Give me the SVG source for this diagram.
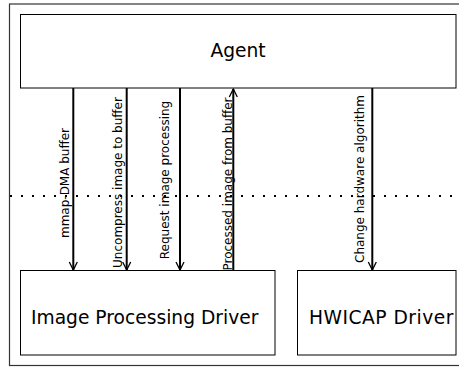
<svg xmlns="http://www.w3.org/2000/svg" width="459" height="367" viewBox="0 0 459 367">
<style>
.box{fill:#fff;stroke:#000;stroke-width:1}
.frame{fill:none;stroke:#333;stroke-width:1.2}
.big{font-family:"DejaVu Sans",sans-serif;font-size:18.67px;fill:#000}
.lbl{font-family:"DejaVu Sans",sans-serif;font-size:12px;fill:#000;text-anchor:middle}
.arr{stroke:#000;stroke-width:2;fill:none}
.dot{stroke:#000;stroke-width:2;stroke-dasharray:2 9;fill:none}
</style>
<defs>
<marker id="ah" viewBox="0 0 10 10" refX="9" refY="5" markerWidth="10" markerHeight="10" markerUnits="userSpaceOnUse" orient="auto">
<path d="M1,1 L9,5 L1,9" fill="none" stroke="#000" stroke-width="1.3"/>
</marker>
</defs>
<rect x="0" y="0" width="459" height="367" fill="#fff"/>
<rect class="frame" x="9.5" y="4" width="460" height="361.5"/>
<line class="dot" x1="10" y1="196" x2="459" y2="196"/>
<g id="agent">
<rect class="box" x="20.5" y="14.5" width="435.5" height="73.5"/>
<text class="big" x="238" y="57" text-anchor="middle">Agent</text>
</g>
<g id="ipd">
<rect class="box" x="20.5" y="270.5" width="254.5" height="84.5"/>
<text class="big" x="31" y="324">Image Processing Driver</text>
</g>
<g id="hwicap">
<rect class="box" x="297.5" y="270.5" width="158.5" height="84.5"/>
<text class="big" x="309" y="324" letter-spacing="0.5">HWICAP Driver</text>
</g>
<g id="connectors">
<line class="arr" x1="73.3" y1="88" x2="73.3" y2="270" marker-end="url(#ah)"/>
<line class="arr" x1="126.7" y1="88" x2="126.7" y2="270" marker-end="url(#ah)"/>
<line class="arr" x1="180" y1="88" x2="180" y2="270" marker-end="url(#ah)"/>
<line class="arr" x1="233.3" y1="270" x2="233.3" y2="89" marker-end="url(#ah)"/>
<line class="arr" x1="372.3" y1="88" x2="372.3" y2="270" marker-end="url(#ah)"/>
<text class="lbl" transform="translate(69,183) rotate(-90)">mmap-DMA buffer</text>
<text class="lbl" transform="translate(122,182.5) rotate(-90)">Uncompress image to buffer</text>
<text class="lbl" transform="translate(169,180) rotate(-90)">Request image processing</text>
<text class="lbl" transform="translate(231.5,184) rotate(-90)">Processed image from buffer</text>
<text class="lbl" transform="translate(364,179) rotate(-90)">Change hardware algorithm</text>
</g>
</svg>
